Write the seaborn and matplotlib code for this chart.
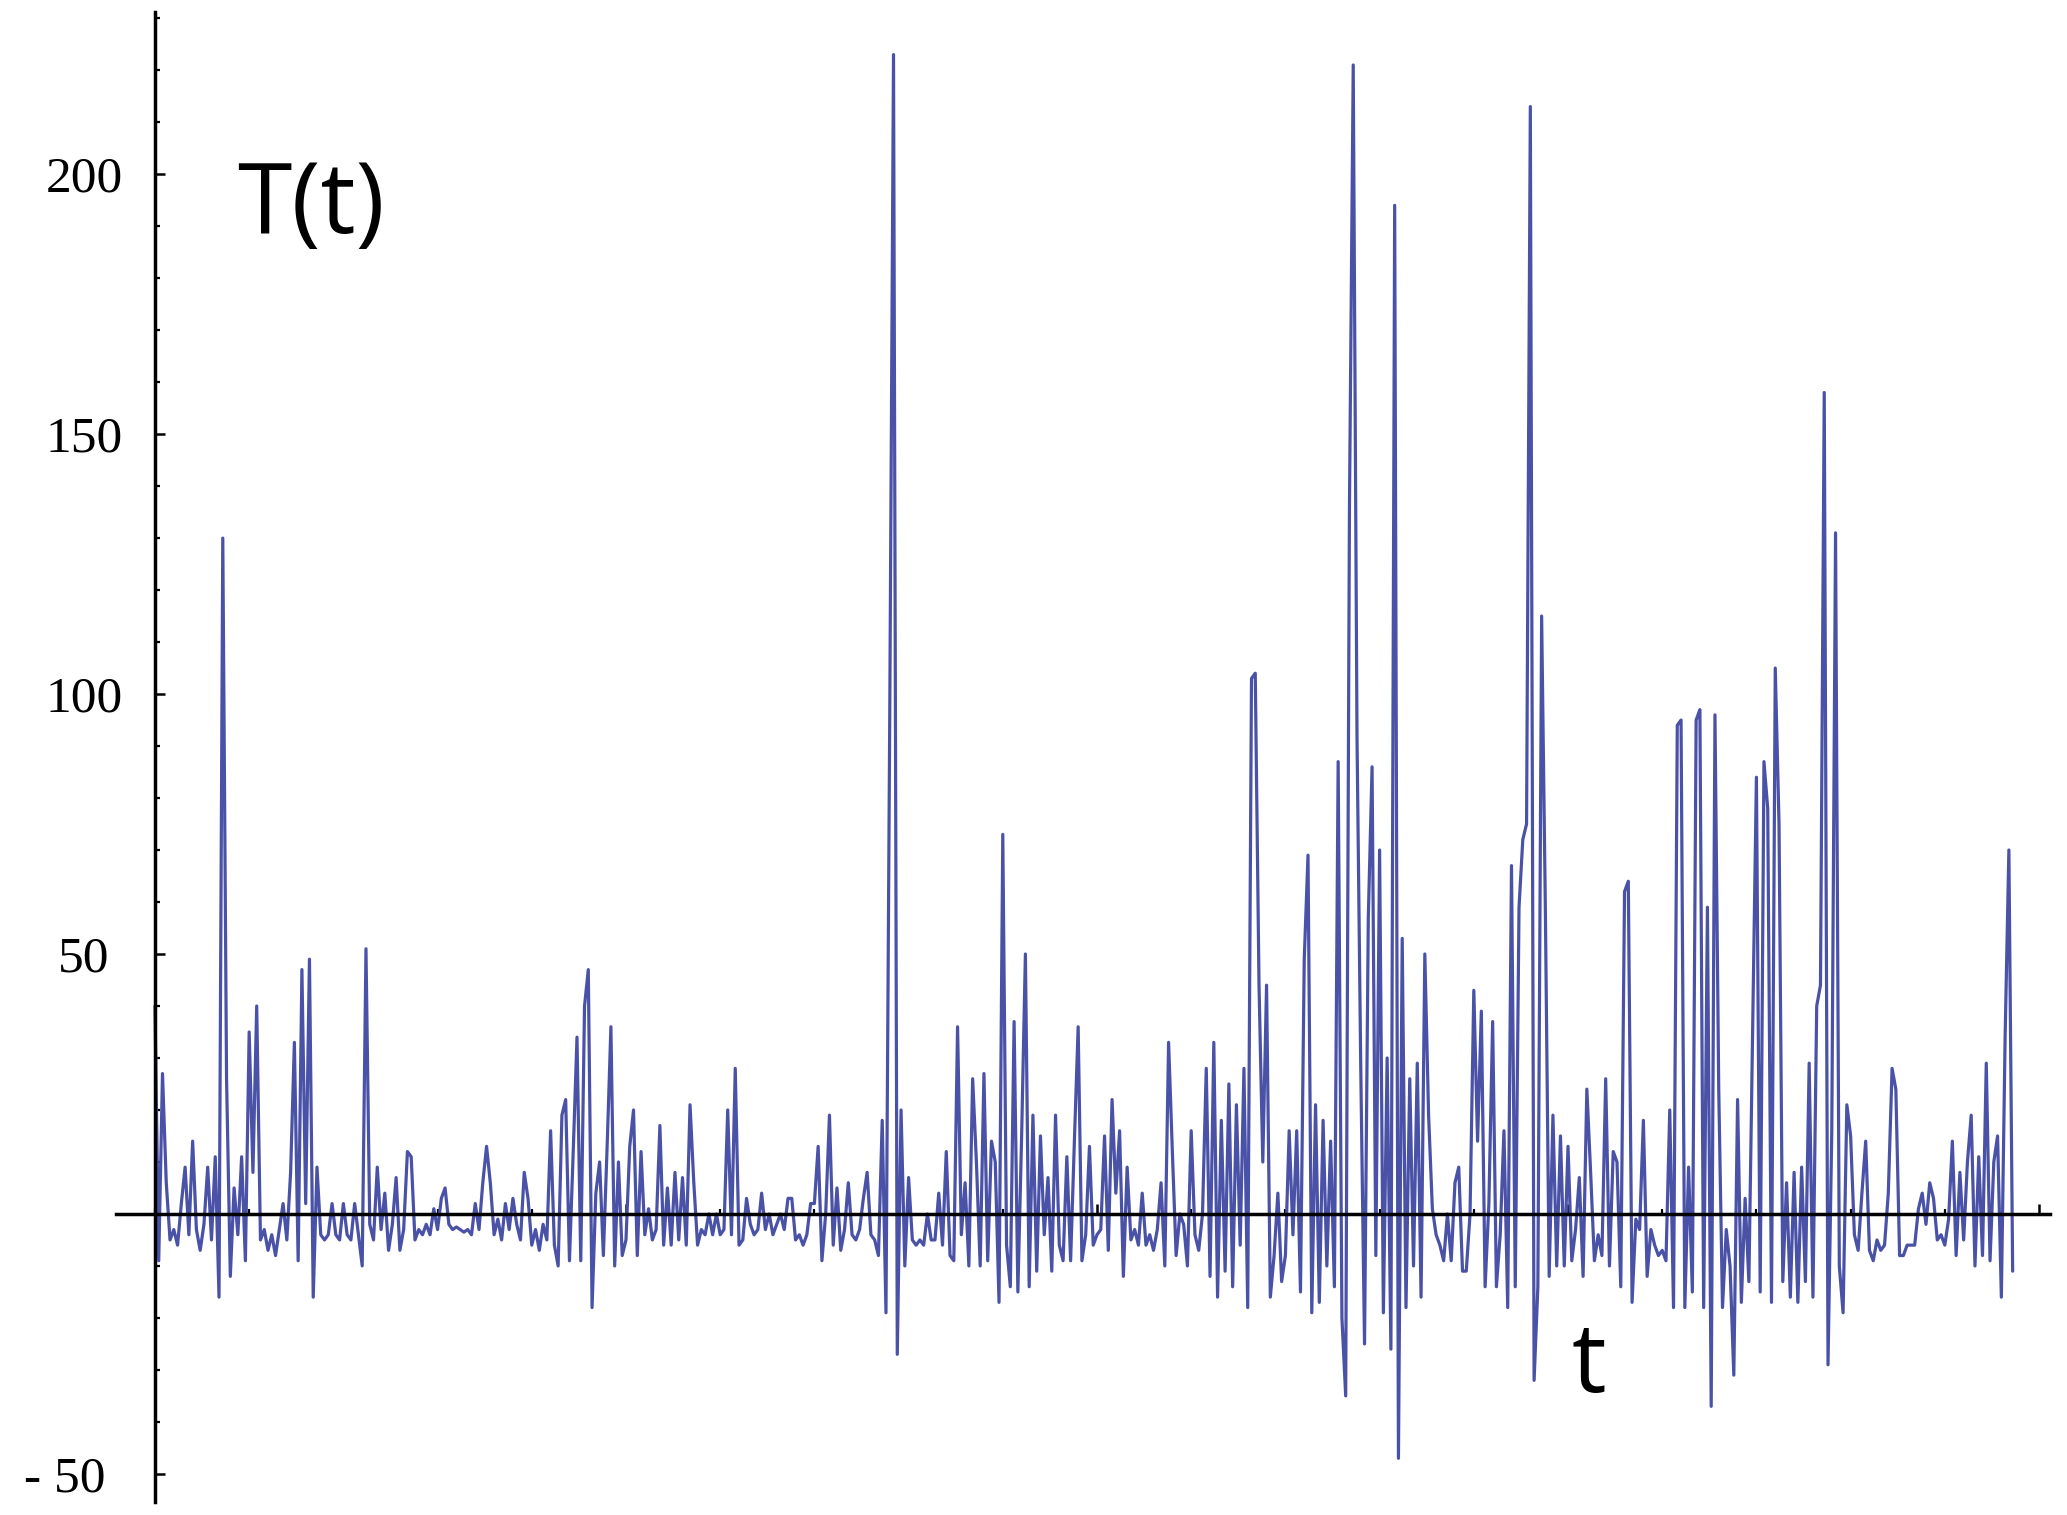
import numpy as np
import pandas as pd
import seaborn as sns
import matplotlib.pyplot as plt
from matplotlib.ticker import FixedLocator, MultipleLocator, NullFormatter
from matplotlib.transforms import blended_transform_factory

# time step between samples (t units)
step = 4

# T(t), 25 samples per 100 t
T_values = [
    40, -9, 27, 6, -5, -3, -6, 2, 9, -4, 14, -3, -7, -2, 9, -5, 11, -16, 130, 26, -12, 5, -4, 11, -9,
    35, 8, 40, -5, -3, -7, -4, -8, -3, 2, -5, 8, 33, -9, 47, 2, 49, -16, 9, -4, -5, -4, 2, -4, -5,
    2, -4, -5, 2, -4, -10, 51, -2, -5, 9, -3, 4, -7, -2, 7, -7, -3, 12, 11, -5, -3, -4, -2, -4, 1,
    -3, 3, 5, -2, -3, -2.5, -3, -3.5, -3, -4, 2, -3, 6, 13, 6, -4, -1, -5, 2, -3, 3, -2, -5, 8, 3,
    -6, -3, -7, -2, -5, 16, -6, -10, 19, 22, -9, 12, 34, -9, 40, 47, -18, 4, 10, -8, 13, 36, -10, 10, -8,
    -5, 13, 20, -8, 12, -4, 1, -5, -3, 17, -6, 5, -6, 8, -5, 7, -6, 21, 6, -6, -3, -4, 0, -4, 0,
    -4, -3, 20, -4, 28, -6, -5, 3, -2, -4, -3, 4, -3, 0, -4, -2, 0, -3, 3, 3, -5, -4, -6, -4, 2,
    2, 13, -9, 0, 19, -6, 5, -7, -3, 6, -4, -5, -3, 3, 8, -4, -5, -8, 18, -19, 96, 223, -27, 20, -10,
    7, -5, -6, -5, -6, 0, -5, -5, 4, -6, 12, -8, -9, 36, -4, 6, -10, 26, 10, -10, 27, -9, 14, 10, -17,
    73, -6, -14, 37, -15, 15, 50, -14, 19, -11, 15, -4, 7, -11, 19, -6, -9, 11, -9, 14, 36, -9, -4, 13, -6,
    -4, -3, 15, -7, 22, 4, 16, -12, 9, -5, -3, -6, 4, -6, -4, -7, -3, 6, -10, 33, 12, -8, 0, -2, -10,
    16, -4, -7, 0, 28, -12, 33, -16, 18, -11, 25, -14, 21, -6, 28, -18, 103, 104, 44, 10, 44, -16, -8, 4, -13,
    -8, 16, -4, 16, -15, 49, 69, -19, 21, -17, 18, -10, 14, -14, 87, -20, -35, 136, 221, 92, 28, -25, 57, 86, -8,
    70, -19, 30, -26, 194, -47, 53, -18, 26, -10, 29, -16, 50, 19, 1, -4, -6, -9, 0, -9, 6, 9, -11, -11, 0,
    43, 14, 39, -14, 2, 37, -14, -4, 16, -18, 67, -14, 59, 72, 75, 213, -32, -14, 115, 58, -12, 19, -10, 15, -10,
    13, -9, -3, 7, -12, 24, 8, -9, -4, -8, 26, -10, 12, 10, -14, 62, 64, -17, -1, -3, 18, -12, -3, -6, -8,
    -7, -9, 20, -18, 94, 95, -18, 9, -15, 95, 97, -18, 59, -37, 96, 24, -18, -3, -10, -31, 22, -17, 3, -13, 35,
    84, -15, 87, 78, -17, 105, 75, -13, 6, -16, 8, -17, 9, -13, 29, -16, 40, 44, 158, -29, 16, 131, -10, -19, 21,
    15, -4, -7, 4, 14, -7, -9, -5, -7, -6, 4, 28, 24, -8, -8, -6, -6, -6, 1, 4, -2, 6, 3, -5, -4,
    -6, -1, 14, -8, 8, -5, 10, 19, -10, 11, -8, 29, -9, 10, 15, -16, 34, 70, -11,
]
t_values = np.arange(len(T_values)) * step

ytick_major = [-50, 50, 100, 150, 200]
ytick_labels = ['- 50', '50', '100', '150', '200']
xtick_major = [500, 1000, 1500, 2000]

sns.set_style("white")
plt.rcParams['font.family'] = ['Liberation Serif', 'DejaVu Serif']
plt.rcParams['text.color'] = 'black'

fig = plt.figure(figsize=(20.67, 15.15), dpi=100)
ax = fig.add_axes([0.0561, 0.0086, 0.9357, 0.9835])

df = pd.DataFrame({'t': t_values, 'T': T_values})
sns.lineplot(data=df, x='t', y='T', color='#4a52a8', linewidth=2.3, ax=ax)

ax.set_xlim(-41.4, 2011.7)
ax.set_ylim(-55.4, 231.2)
ax.set_xlabel('')
ax.set_ylabel('')

# Mathematica style axes crossing at the origin
for side in ['top', 'right']:
    ax.spines[side].set_visible(False)
ax.spines['left'].set_position(('data', 0))
ax.spines['bottom'].set_position(('data', 0))
for side in ['left', 'bottom']:
    ax.spines[side].set_linewidth(2.5)
    ax.spines[side].set_color('black')
    ax.spines[side].set_zorder(3)

ax.yaxis.set_major_locator(FixedLocator(ytick_major))
ax.yaxis.set_minor_locator(MultipleLocator(10))
ax.xaxis.set_major_locator(FixedLocator(xtick_major))
ax.xaxis.set_minor_locator(MultipleLocator(100))
ax.yaxis.set_major_formatter(NullFormatter())
ax.xaxis.set_major_formatter(NullFormatter())
ax.tick_params(which='both', left=True, bottom=True, direction='in', color='black')
ax.tick_params(which='major', length=7, width=1.8)
ax.tick_params(which='minor', length=3.5, width=1.6)

# y tick labels, centred left of the axis
trans = blended_transform_factory(ax.transAxes, ax.transData)
for val, lab in zip(ytick_major, ytick_labels):
    if lab.startswith('-'):
        ax.text(-0.0052, val - 3.4, lab, transform=trans, ha='right', va='baseline',
                fontsize=37, color='black', clip_on=False)
    else:
        ax.text(-0.0165, val - 3.4, lab, transform=trans, ha='center', va='baseline',
                fontsize=37, color='black', clip_on=False)

fig.text(237 / 2067, 1 - 233 / 1515, 'T(t)', fontsize=71, ha='left', va='baseline',
         color='black', fontweight='medium', family=['Open Sans', 'DejaVu Sans'])
fig.text(1589 / 2067, 1 - 1392 / 1515, 't', fontsize=70, ha='center', va='baseline',
         color='black', fontweight='medium', family=['Open Sans', 'DejaVu Sans'])

fig.savefig('out.png', dpi=100)
